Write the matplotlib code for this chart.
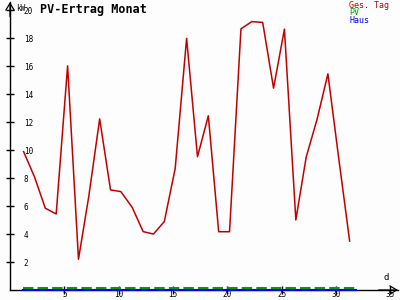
import numpy as np
import matplotlib
matplotlib.use('Agg')
import matplotlib.pyplot as plt

# Tageswerte (kWh)
tage = [1.25, 2.25, 3.25, 4.25, 5.3, 6.3, 7.25, 8.25, 9.25, 10.2,
        11.25, 12.25, 13.2, 14.2, 15.2, 16.25, 17.25, 18.25, 19.2, 20.2,
        21.25, 22.25, 23.25, 24.25, 25.25, 26.3, 27.25, 28.25, 29.25, 30.25,
        31.25]
ges_tag = [9.9, 8.1, 5.85, 5.44, 16.03, 2.2, 6.7, 12.24, 7.16, 7.04,
           5.9, 4.18, 4.0, 4.9, 8.7, 18.0, 9.54, 12.46, 4.17, 4.17,
           18.68, 19.2, 19.14, 14.44, 18.66, 5.01, 9.5, 12.2, 15.46, 9.4,
           3.5]

# PV und Haus liegen praktisch bei null
netz_tage = [1.2, 31.8]
pv = [0.12, 0.12]
haus = [0.0, 0.0]

xticks = [5, 10, 15, 20, 25, 30, 35]
yticks = [2, 4, 6, 8, 10, 12, 14, 16, 18, 20]

ROT = '#c00000'
GRUEN = '#00a000'
BLAU = '#0000ff'
MONO = 'DejaVu Sans Mono'

fig = plt.figure(figsize=(4, 3), dpi=100, facecolor='#fdfdfd')
ax = fig.add_axes([0.025, 0.0333, 0.97, 0.96])
ax.set_facecolor('#fdfdfd')

ax.plot(netz_tage, pv, color=GRUEN, lw=1.5, dashes=(5, 2), zorder=3)
ax.plot(netz_tage, haus, color=BLAU, lw=1.5, zorder=4, clip_on=False)
ax.plot(tage, ges_tag, color=ROT, lw=1.1, zorder=5)

ax.set_xlim(0, 35.7)
ax.set_ylim(0, 20.6)

for s in ['top', 'right']:
    ax.spines[s].set_visible(False)
ax.spines['left'].set_linewidth(1.0)
ax.spines['bottom'].set_linewidth(1.0)

ax.set_xticks(xticks)
ax.set_yticks(yticks)
ax.set_xticklabels([str(v) for v in xticks], family=MONO, fontsize=5.5)
ax.set_yticklabels([str(v) for v in yticks], family=MONO, fontsize=5.5)
ax.tick_params(direction='inout', length=6, width=1.0)
ax.tick_params(axis='x', pad=-3)
ax.tick_params(axis='y', pad=-13)
for lbl in ax.get_yticklabels():
    lbl.set_ha('left')

# offene Pfeile an den Achsenenden
pfeil = dict(arrowstyle='->,head_length=0.5,head_width=0.3', lw=0.9,
             color='black', shrinkA=0, shrinkB=0, mutation_scale=10)
ax.annotate('', xy=(1.0, 0), xytext=(0.95, 0), xycoords='axes fraction',
            arrowprops=pfeil)
ax.annotate('', xy=(0, 1.0), xytext=(0, 0.95), xycoords='axes fraction',
            arrowprops=pfeil)

fig.text(0.04, 0.988, 'kW', family=MONO, fontsize=5.5, va='top', ha='left')
fig.text(0.965, 0.075, 'd', family=MONO, fontsize=6.5, va='center', ha='center')

fig.text(0.1, 0.99, 'PV-Ertrag Monat', family=MONO, fontsize=8.5,
         fontweight='bold', va='top', ha='left')

fig.text(0.873, 0.998, 'Ges. Tag', family=MONO, fontsize=6, color=ROT, va='top')
fig.text(0.873, 0.972, 'PV', family=MONO, fontsize=6, color=GRUEN, va='top')
fig.text(0.873, 0.946, 'Haus', family=MONO, fontsize=6, color=BLAU, va='top')

fig.savefig('out.png', dpi=100, facecolor=fig.get_facecolor())
